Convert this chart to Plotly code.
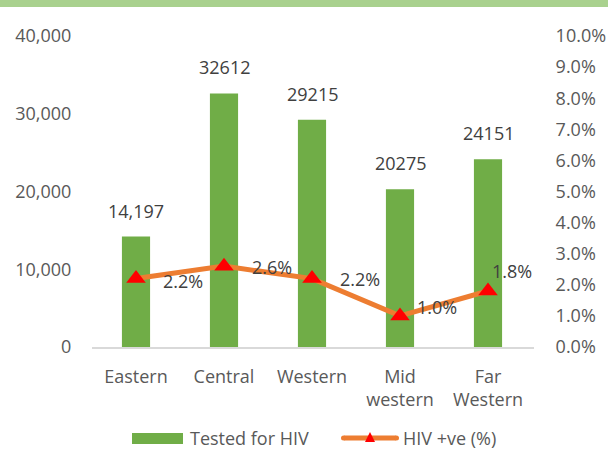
import plotly.graph_objects as go

categories = ["Eastern", "Central", "Western", "Mid<br>western", "Far<br>Western"]
tested = [14197, 32612, 29215, 20275, 24151]
tested_labels = ["14,197", "32612", "29215", "20275", "24151"]
positive_pct = [2.2, 2.6, 2.2, 1.0, 1.8]
pct_labels = ["2.2%", "2.6%", "2.2%", "1.0%", "1.8%"]
left_ticks = [0, 10000, 20000, 30000, 40000]
left_tick_text = ["0", "10,000", "20,000", "30,000", "40,000"]
right_ticks = [0, 1, 2, 3, 4, 5, 6, 7, 8, 9, 10]
right_tick_text = [f"{v:.1f}%" for v in right_ticks]
series_names = ["Tested for HIV", "HIV +ve (%)"]

# label offsets (pixels) for the percentage labels, relative to each marker
pct_xshift = [25, 26, 26, 15, 2]
pct_yshift = [-2, -1, 0, 9, 20]

FAM = "Open Sans, Liberation Sans, sans-serif"
font = dict(family=FAM, size=18, color="#595959")
W, H = 608, 452
ML, MR, MT, MB = 92, 74, 36, 105
PW, PH = W - ML - MR, H - MT - MB
GREEN, ORANGE, RED = "#70AD47", "#ED7D31", "#FF0000"


def px(x):
    return (x - ML) / PW


def py(y):
    return (H - MB - y) / PH


fig = go.Figure()
fig.add_trace(go.Bar(
    x=categories, y=tested, name=series_names[0],
    marker=dict(color=GREEN, line=dict(width=0)),
))
fig.add_trace(go.Scatter(
    x=categories, y=positive_pct, name=series_names[1], yaxis="y2",
    mode="lines+markers",
    line=dict(color=ORANGE, width=5),
    marker=dict(symbol="triangle-up", color=RED, size=17),
    cliponaxis=False,
))

annotations = [
    dict(x=c, y=v, xref="x", yref="y", text=t, showarrow=False,
         yanchor="bottom", yshift=12, font=dict(family=FAM, size=18, color="#404040"))
    for c, v, t in zip(categories, tested, tested_labels)
]
annotations += [
    dict(x=c, y=v, xref="x", yref="y2", text=t, showarrow=False,
         xanchor="left", yanchor="middle", xshift=dx, yshift=dy,
         font=dict(family=FAM, size=18, color="#404040"))
    for c, v, t, dx, dy in zip(categories, positive_pct, pct_labels, pct_xshift, pct_yshift)
]
# custom legend texts
legend_font = dict(family=FAM, size=18, color="#595959")
annotations += [
    dict(x=px(188), y=py(438), xref="paper", yref="paper", text=series_names[0],
         showarrow=False, xanchor="left", yanchor="middle", font=legend_font),
    dict(x=px(401), y=py(438), xref="paper", yref="paper", text=series_names[1],
         showarrow=False, xanchor="left", yanchor="middle", font=legend_font),
]

# triangle legend marker path in pixel space -> paper
tx, ty = 370, 438
tri = "M {},{} L {},{} L {},{} Z".format(px(tx - 5), py(ty + 4), px(tx + 5), py(ty + 4), px(tx), py(ty - 6))

shapes = [
    # top band
    dict(type="rect", xref="paper", yref="paper", x0=-0.3, x1=1.3,
         y0=py(7), y1=py(-10), fillcolor="#A9D18E", line=dict(width=0), layer="above"),
    # legend: bar swatch
    dict(type="rect", xref="paper", yref="paper", x0=px(132), x1=px(183),
         y0=py(444), y1=py(433), fillcolor=GREEN, line=dict(width=0)),
    # legend: line swatch
    dict(type="line", xref="paper", yref="paper", x0=px(344), x1=px(396),
         y0=py(438), y1=py(438), line=dict(color=ORANGE, width=5)),
    dict(type="circle", xref="paper", yref="paper", x0=px(341), x1=px(346),
         y0=py(440.5), y1=py(435.5), fillcolor=ORANGE, line=dict(width=0)),
    dict(type="circle", xref="paper", yref="paper", x0=px(394), x1=px(399),
         y0=py(440.5), y1=py(435.5), fillcolor=ORANGE, line=dict(width=0)),
    dict(type="path", xref="paper", yref="paper", path=tri, fillcolor=RED, line=dict(width=0)),
]

fig.update_layout(
    width=W, height=H,
    margin=dict(l=ML, r=MR, t=MT, b=MB, autoexpand=False),
    paper_bgcolor="white", plot_bgcolor="white",
    font=font,
    bargap=0.68,
    showlegend=False,
    xaxis=dict(showgrid=False, showline=True, linecolor="#D9D9D9", linewidth=2,
               ticks="outside", ticklen=12, tickcolor="rgba(0,0,0,0)", tickfont=font),
    yaxis=dict(range=[0, 40000], tickvals=left_ticks, ticktext=left_tick_text,
               showgrid=False, zeroline=False, showline=False,
               ticks="outside", ticklen=16, tickcolor="rgba(0,0,0,0)", tickfont=font),
    yaxis2=dict(range=[0, 10], tickvals=right_ticks, ticktext=right_tick_text,
                overlaying="y", side="right", showgrid=False, zeroline=False,
                showline=False, ticks="outside", ticklen=17,
                tickcolor="rgba(0,0,0,0)", tickfont=font),
    annotations=annotations,
    shapes=shapes,
)

fig.write_html("out.html", config={"displayModeBar": False},
               post_script="document.body.style.margin='0';document.body.style.overflow='hidden';")
